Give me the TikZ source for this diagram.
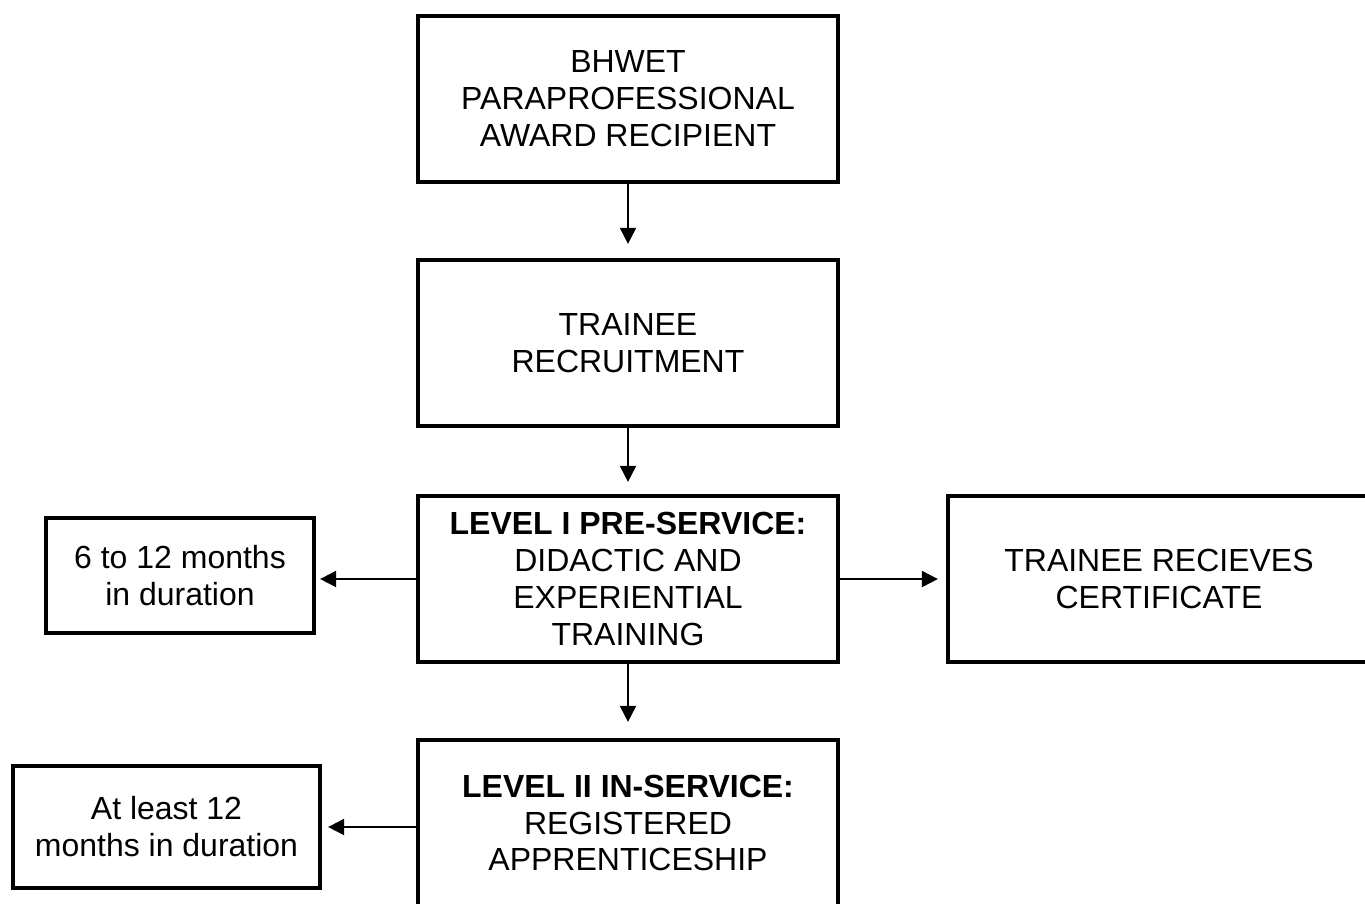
\documentclass[tikz,border=0pt]{standalone}
\usepackage{fontspec}
\setmainfont{Liberation Sans}
\usetikzlibrary{arrows.meta}

\tikzset{
  stagebox/.style={draw=black,line width=2.4pt,align=center,inner sep=0pt,
    minimum width=8.4cm,minimum height=3.32cm,
    font=\fontsize{18.2}{21}\selectfont},
  notebox/.style={stagebox,minimum width=#1,minimum height=2.3cm},
  flow/.style={line width=1.1pt,-{Triangle[length=0.32cm,width=0.32cm]}}
}

\begin{document}
\begin{tikzpicture}
  \useasboundingbox (0,0) rectangle (27.3,-18.06);
  % main column
  \node[stagebox] (award) at (12.56,-1.98) {BHWET\\PARAPROFESSIONAL\\AWARD RECIPIENT};
  \node[stagebox] (recruit) at (12.56,-6.86) {TRAINEE\\RECRUITMENT};
  \node[stagebox] (levelone) at (12.56,-11.58) {\textbf{LEVEL I PRE-SERVICE:}\\DIDACTIC AND\\EXPERIENTIAL\\TRAINING};
  \node[stagebox] (leveltwo) at (12.56,-16.46) {\textbf{LEVEL II IN-SERVICE:}\\REGISTERED\\APPRENTICESHIP};
  % side boxes
  \node[notebox=5.36cm] (durone) at (3.6,-11.51) {6 to 12 months\\in duration};
  \node[notebox=6.14cm,minimum height=2.44cm] (durtwo) at (3.33,-16.54) {At least 12\\months in duration};
  \node[stagebox,minimum width=8.44cm] (cert) at (23.18,-11.58) {TRAINEE RECIEVES\\CERTIFICATE};
  % arrows
  \draw[flow,shorten >=0.28cm] (award) -- (recruit);
  \draw[flow,shorten >=0.24cm] (recruit) -- (levelone);
  \draw[flow,shorten >=0.32cm] (levelone) -- (leveltwo);
  \draw[flow,shorten >=0.08cm] (levelone) -- (durone.east |- levelone);
  \draw[flow,shorten >=0.16cm] (levelone) -- (cert);
  \draw[flow,shorten >=0.12cm] (leveltwo.west |- durtwo) -- (durtwo);
\end{tikzpicture}
\end{document}
